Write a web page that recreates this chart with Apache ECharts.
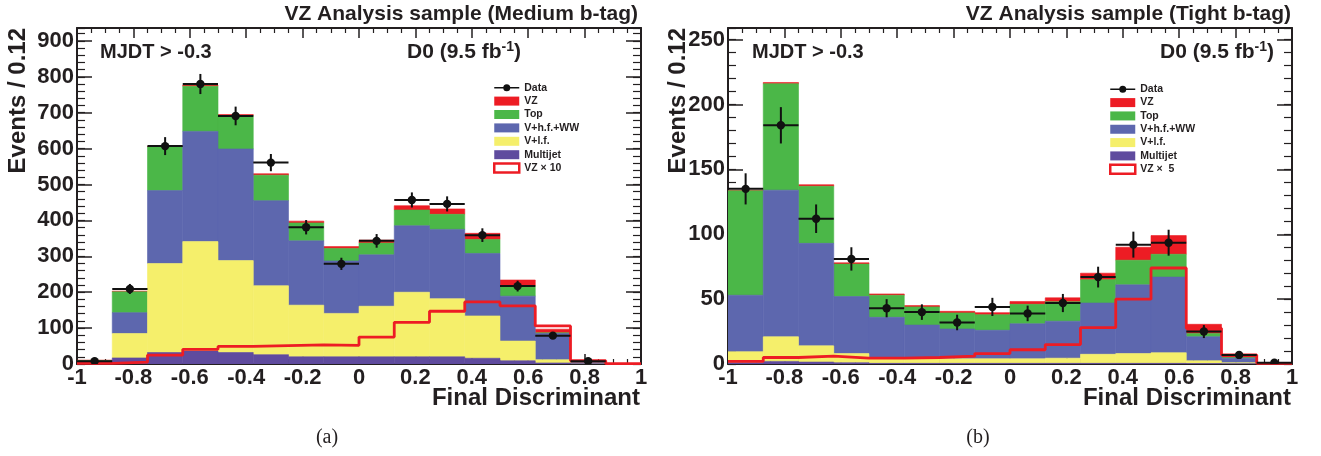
<!DOCTYPE html>
<html><head><meta charset="utf-8">
<script src="https://cdn.jsdelivr.net/npm/echarts@6/dist/echarts.min.js"></script>
<style>html,body{margin:0;padding:0;background:#fff}#c{width:1321px;height:456px}</style>
</head><body><div id="c"></div>
<script>
// ---- bin edges (Final Discriminant), 16 bins of 0.125 ----
const binEdges = [-1,-0.875,-0.75,-0.625,-0.5,-0.375,-0.25,-0.125,0,0.125,0.25,0.375,0.5,0.625,0.75,0.875,1];

// ---- (a) Medium b-tag ----
const medMultijet = [3,17,32,36,32,26,20,20,20,20,20,16,9,3,1,0];
const medVlf      = [2,68,248,305,256,192,144,121,141,180,162,118,55,9,1,0.2];
const medVhf      = [3,58,203,307,311,237,179,146,143,185,193,174,125,73,3,0.3];
const medTop      = [2,58,122,126,93,71,50,35,33,44,42,39,29,2,1,0.1];
const medVZ       = [0.5,2,2,3,3,4,5,5,8,12,15,17,16,10,1,0.1];
const medVZx10    = [2,5,25,41,49,51,53,52,75,116,147,173,162,106,9,1];
const medData     = [8,209,607,780,691,561,381,279,343,457,446,359,217,79,8,null];
const medErr      = [3,14,25,28,26,24,20,17,19,21,21,19,15,9,3,0];

// ---- (b) Tight b-tag ----
const tigMultijet = [1,2,1.5,1,0.5,0.5,0.5,0.5,0.5,0.5,0.5,0.5,0.5,0.3,0.2,0];
const tigVlf      = [8.5,19,12.5,7,4,3.5,3.5,3.5,3.5,4,7,7.5,8.2,2.2,0.8,0.2];
const tigVhf      = [43.5,113,79,44,31.5,26,23,22,27,28.5,39.5,53,58.3,18.5,3.5,0.4];
const tigTop      = [80.6,82,44,25,17,14,12.4,12,15,15,18,19,17.6,2.6,0.5,0.1];
const tigVZ       = [0.4,1,1.2,1,1,1,1.2,1.6,2.2,3,5,10,14.4,7,1.4,0.2];
const tigVZx5     = [2,5,6,4.5,4.5,5,6,8,11,15,28,50,74,27.5,7,0.5];
const tigData     = [135,184,112,81,43,40,32,44,39,47,67,92,93.5,25,7,1];
const tigErr      = [12,14,11,9,7,6,6,7,6,7,8,10,10,5,3,1];

// ---- axis settings ----
const medYMax = 936, tigYMax = 259;

const C = {vz:'#ed1c24', top:'#4bb748', vhf:'#5d67ae', vlf:'#f5ef6b', mj:'#5f4b9e', txt:'#231f20'};
const FF = 'Liberation Sans, Arial, sans-serif';

function boxSeries(name, color, gi, lows, highs){
  return {
    type:'custom', name, xAxisIndex: gi*2, yAxisIndex: gi*4, clip:true, animation:false,
    itemStyle:{color},
    encode:{x:[0,1], y:[2,3]},
    data: binEdges.slice(0,-1).map((e,i)=>[e, binEdges[i+1], lows[i], highs[i]]),
    renderItem:(params, api)=>{
      const a = api.coord([api.value(0), api.value(3)]);
      const b = api.coord([api.value(1), api.value(2)]);
      return {type:'rect', shape:{x:a[0], y:a[1], width:b[0]-a[0], height:b[1]-a[1]},
              style:{fill:color, stroke:color, lineWidth:0.6}};
    }
  };
}
function stackSeries(gi, comps){
  // comps bottom -> top: [name,color,values]
  const out = [];
  let base = comps[0][2].map(()=>0);
  comps.forEach(([name,color,vals])=>{
    const top = base.map((b,i)=>b+vals[i]);
    out.push(boxSeries(name,color,gi,base,top));
    base = top;
  });
  return out.reverse();
}
function dataSeries(gi, vals, errs){
  const rows = [];
  vals.forEach((v,i)=>{ if(v!=null) rows.push([binEdges[i], binEdges[i+1], v, errs[i]]); });
  return {
    type:'custom', name:'Data', xAxisIndex: gi*2, yAxisIndex: gi*4, clip:true, animation:false, z:5,
    itemStyle:{color:'#111'},
    encode:{x:[0,1], y:2},
    data: rows,
    renderItem:(params, api)=>{
      const x0=api.value(0), x1=api.value(1), y=api.value(2), e=api.value(3);
      const xc=(x0+x1)/2;
      const pL=api.coord([x0,y]), pR=api.coord([x1,y]);
      const pT=api.coord([xc,y+e]), pB=api.coord([xc,Math.max(y-e,0)]), pC=api.coord([xc,y]);
      const st={stroke:'#111', lineWidth:2};
      return {type:'group', children:[
        {type:'line', shape:{x1:pL[0],y1:pL[1],x2:pR[0],y2:pR[1]}, style:st},
        {type:'line', shape:{x1:pT[0],y1:pT[1],x2:pB[0],y2:pB[1]}, style:st},
        {type:'circle', shape:{cx:pC[0], cy:pC[1], r:4.2}, style:{fill:'#111'}}
      ]};
    }
  };
}
function scaledLine(gi, name, vals){
  return {
    type:'line', name, xAxisIndex: gi*2, yAxisIndex: gi*4, step:'end', symbol:'none',
    clip:true, animation:false, z:4,
    lineStyle:{color:C.vz, width:2.8},
    itemStyle:{color:'#fff', borderColor:C.vz, borderWidth:2.5},
    data: binEdges.map((e,i)=>[e, vals[Math.min(i, vals.length-1)]])
  };
}

const labelStyle = {fontSize:22, fontWeight:'bold', fontFamily:FF, color:C.txt};
const lineSt = {color:C.txt, width:2};
function xAxes(gi){
  const common = {gridIndex:gi, type:'value', min:-1, max:1, interval:0.2, splitLine:{show:false},
    axisLine:{show:true, onZero:false, lineStyle:lineSt},
    axisTick:{show:true, inside:true, length:10, lineStyle:{color:C.txt, width:1.5}},
    minorTick:{show:true, splitNumber:4, length:5, lineStyle:{color:C.txt, width:1.2}}};
  return [
    Object.assign({}, common, {position:'bottom', axisLabel:Object.assign({margin:3,
      formatter:v=>String(Math.round(v*10)/10)}, labelStyle)}),
    Object.assign({}, common, {position:'top', axisLabel:{show:false}})
  ];
}
function yAxes(gi, ymax, major, minor){
  const base = {gridIndex:gi, type:'value', min:0, max:ymax, splitLine:{show:false}};
  const majorTick = {show:true, inside:true, length:15, lineStyle:{color:C.txt, width:1.5}};
  const minorTickA = {show:true, inside:true, length:8, lineStyle:{color:C.txt, width:1.2}};
  return [
    Object.assign({}, base, {position:'left', interval:major,
      axisLine:{show:true, onZero:false, lineStyle:lineSt}, axisTick:majorTick,
      axisLabel:Object.assign({margin:3, showMaxLabel:false,
        formatter:v=>(Math.abs(v/major-Math.round(v/major))<1e-6 ? String(Math.round(v)) : '')}, labelStyle)}),
    Object.assign({}, base, {position:'left', interval:minor, axisLine:{show:false, onZero:false}, axisTick:minorTickA, axisLabel:{show:false}}),
    Object.assign({}, base, {position:'right', interval:major,
      axisLine:{show:true, onZero:false, lineStyle:lineSt}, axisTick:majorTick, axisLabel:{show:false}}),
    Object.assign({}, base, {position:'right', interval:minor, axisLine:{show:false, onZero:false}, axisTick:minorTickA, axisLabel:{show:false}})
  ];
}

const dataIcon = 'path://M0,0M25,9M0,3.8h25v1.4h-25zM16,4.5a3.5,3.5 0 1,1 -7,0a3.5,3.5 0 1,1 7,0z';
function legendFor(left, top, pitch, scaledName){
  return {
    orient:'vertical', left, top, itemWidth:25, itemHeight:9, itemGap:0, padding:0, selectedMode:false,
    textStyle:{fontSize:10.5, fontWeight:'bold', fontFamily:FF, color:C.txt, lineHeight:pitch},
    data:[
      {name:'Data', icon:dataIcon, itemStyle:{color:'#111'}},
      {name:'VZ', icon:'rect'},
      {name:'Top', icon:'rect'},
      {name:'V+h.f.+WW', icon:'rect'},
      {name:'V+l.f.', icon:'rect'},
      {name:'Multijet', icon:'rect'},
      {name:scaledName, icon:'rect', itemStyle:{color:'#fff', borderColor:C.vz, borderWidth:2.5}}
    ]
  };
}

function comps(mj, vlf, vhf, top, vz){
  return [['Multijet',C.mj,mj],['V+l.f.',C.vlf,vlf],['V+h.f.+WW',C.vhf,vhf],['Top',C.top,top],['VZ',C.vz,vz]];
}

const txt = (x,y,text,size,align,extra)=>Object.assign({type:'text', x, y, silent:true,
  style:{text, fontSize:size, fontWeight:'bold', fontFamily:FF, fill:C.txt, align, verticalAlign:'middle'}}, extra||{});
const d0 = (x,y)=>({type:'text', x, y, silent:true, style:{
  text:'{a|D0 (9.5 fb}{s|-1}{a|)}', align:'left', verticalAlign:'middle',
  rich:{a:{fontSize:21, fontWeight:'bold', fontFamily:FF, fill:C.txt, lineHeight:24},
        s:{fontSize:14, fontWeight:'bold', fontFamily:FF, fill:C.txt, verticalAlign:'top', lineHeight:15}}}});

const option = {
  animation:false,
  backgroundColor:'#fff',
  grid:[
    {left:77, top:28, width:564, height:336, containLabel:false, outerBoundsMode:'none'},
    {left:728, top:28, width:564, height:336, containLabel:false, outerBoundsMode:'none'}
  ],
  xAxis:[...xAxes(0), ...xAxes(1)],
  yAxis:[...yAxes(0, medYMax, 100, 20), ...yAxes(1, tigYMax, 50, 10)],
  legend:[legendFor(493, 81, 13.4, 'VZ × 10'), legendFor(1109, 82.6, 13.33, 'VZ ×  5')],
  series:[
    ...stackSeries(0, comps(medMultijet, medVlf, medVhf, medTop, medVZ)),
    scaledLine(0, 'VZ × 10', medVZx10),
    dataSeries(0, medData, medErr),
    ...stackSeries(1, comps(tigMultijet, tigVlf, tigVhf, tigTop, tigVZ)),
    scaledLine(1, 'VZ ×  5', tigVZx5),
    dataSeries(1, tigData, tigErr)
  ],
  graphic:{elements:[
    txt(638, 14.5, 'VZ Analysis sample (Medium b-tag)', 21, 'right'),
    txt(1291, 14.5, 'VZ Analysis sample (Tight b-tag)', 21, 'right'),
    txt(100, 52, 'MJDT > -0.3', 20, 'left'),
    txt(752, 52, 'MJDT > -0.3', 20, 'left'),
    d0(407, 52), d0(1160, 52),
    txt(640, 398, 'Final Discriminant', 24, 'right'),
    txt(1291, 398, 'Final Discriminant', 24, 'right'),
    txt(18, 28, 'Events / 0.12', 24, 'right', {rotation:Math.PI/2}),
    txt(678, 28, 'Events / 0.12', 24, 'right', {rotation:Math.PI/2}),
    {type:'text', x:327, y:438, silent:true, style:{text:'(a)', fontSize:20, fontFamily:'Liberation Serif, DejaVu Serif, serif', fill:C.txt, align:'center', verticalAlign:'middle'}},
    {type:'text', x:978, y:438, silent:true, style:{text:'(b)', fontSize:20, fontFamily:'Liberation Serif, DejaVu Serif, serif', fill:C.txt, align:'center', verticalAlign:'middle'}}
  ]}
};
const chart = echarts.init(document.getElementById('c'), null, {renderer:'canvas'});
chart.setOption(option);
</script>
</body></html>
